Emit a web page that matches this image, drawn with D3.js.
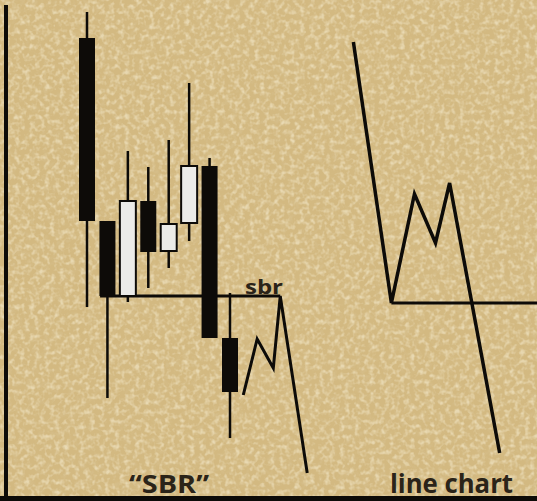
<!DOCTYPE html>
<html>
<head>
<meta charset="utf-8">
<script src="https://cdn.jsdelivr.net/npm/d3@7"></script>
<style>
  body { margin: 0; background: #d1b780; }
  svg { display: block; }
</style>
</head>
<body>
<div id="chart"></div>
<script>
// candle data (t = bar index, price in arbitrary units)
var candleT = [0, 1, 2, 3, 4, 5, 6, 7];
var candleOpen  = [92.4, 55.8, 40.8, 59.8, 49.8, 55.4, 66.8, 32.4];
var candleClose = [55.8, 40.8, 59.8, 49.6, 55.2, 66.8, 32.4, 21.6];
var candleHigh  = [97.6, 55.8, 69.8, 66.6, 72.0, 83.4, 68.4, 41.4];
var candleLow   = [38.6, 20.4, 39.6, 42.4, 46.4, 51.8, 32.4, 12.4];

// "sbr" level and the little line that follows the candles
var sbrLevel = 40.8;
var sbrFrom = 0.64, sbrTo = 9.46;
var sbrLineT = [7.65, 8.33, 9.12, 9.46, 10.78];
var sbrLineV = [21.0, 32.2, 26.4, 40.8, 5.4];

// line chart on the right
var lineT = [13.04, 14.9, 16.03, 17.06, 17.75, 20.2];
var lineV = [91.6, 39.4, 61.2, 51.4, 63.4, 9.4];
var lineLevel = 39.4;
var lineLevelFrom = 14.9, lineLevelTo = 22.2;

var labels = ["\u201cSBR\u201d", "line chart", "sbr"];

var width = 537, height = 501;

var svg = d3.select("#chart")
  .append("svg")
    .attr("width", width)
    .attr("height", height);

// paper texture
var defs = svg.append("defs");
var filt = defs.append("filter").attr("id", "paper")
  .attr("x", 0).attr("y", 0).attr("width", "100%").attr("height", "100%");
filt.append("feTurbulence")
  .attr("type", "fractalNoise")
  .attr("baseFrequency", 0.2)
  .attr("numOctaves", 2)
  .attr("seed", 7);
filt.append("feColorMatrix")
  .attr("type", "matrix")
  .attr("values", "0 0 0 0 0.95  0 0 0 0 0.88  0 0 0 0 0.68  0 0 0 2.6 -1.15");

var filt2 = defs.append("filter").attr("id", "paper2")
  .attr("x", 0).attr("y", 0).attr("width", "100%").attr("height", "100%");
filt2.append("feTurbulence")
  .attr("type", "fractalNoise")
  .attr("baseFrequency", 0.16)
  .attr("numOctaves", 2)
  .attr("seed", 21);
filt2.append("feColorMatrix")
  .attr("type", "matrix")
  .attr("values", "0 0 0 0 0.72  0 0 0 0 0.6  0 0 0 0 0.36  0 0 0 2.6 -1.3");

svg.append("rect")
  .attr("width", width).attr("height", height)
  .attr("fill", "#d3b981");
svg.append("rect")
  .attr("width", width).attr("height", height)
  .attr("filter", "url(#paper2)")
  .attr("opacity", 0.35);
svg.append("rect")
  .attr("width", width).attr("height", height)
  .attr("filter", "url(#paper)")
  .attr("opacity", 0.55);

var x = d3.scaleLinear().domain([0, 7]).range([87, 230]);
var y = d3.scaleLinear().domain([0, 100]).range([500, 0]);

var candles = candleT.map(function (t, i) {
  return { t: t, open: candleOpen[i], close: candleClose[i], high: candleHigh[i], low: candleLow[i] };
});

var ink = "#0d0b08";
var bodyW = 16;

// wicks
svg.selectAll(".wick")
  .data(candles)
  .enter()
  .append("line")
    .attr("class", "wick")
    .attr("x1", function (d) { return x(d.t) })
    .attr("x2", function (d) { return x(d.t) })
    .attr("y1", function (d) { return y(d.high) })
    .attr("y2", function (d) { return y(d.low) })
    .attr("stroke", ink)
    .attr("stroke-width", 2.5);

// sbr level
svg.append("line")
  .attr("x1", x(sbrFrom)).attr("x2", x(sbrTo))
  .attr("y1", y(sbrLevel)).attr("y2", y(sbrLevel))
  .attr("stroke", ink).attr("stroke-width", 3);

// bodies
svg.selectAll(".body")
  .data(candles)
  .enter()
  .append("rect")
    .attr("class", "body")
    .attr("x", function (d) { return x(d.t) - bodyW / 2 })
    .attr("y", function (d) { return y(Math.max(d.open, d.close)) })
    .attr("width", bodyW)
    .attr("height", function (d) { return Math.abs(y(d.open) - y(d.close)) })
    .attr("fill", function (d) { return d.close > d.open ? "#ebebe8" : ink })
    .attr("stroke", ink)
    .attr("stroke-width", function (d) { return d.close > d.open ? 2 : 0 });

var line = d3.line()
  .x(function (d) { return x(d[0]) })
  .y(function (d) { return y(d[1]) });

svg.append("path")
  .datum(d3.zip(sbrLineT, sbrLineV))
  .attr("d", line)
  .attr("fill", "none")
  .attr("stroke", ink)
  .attr("stroke-width", 3)
  .attr("stroke-linejoin", "miter");

// right line chart
svg.append("line")
  .attr("x1", x(lineLevelFrom)).attr("x2", x(lineLevelTo))
  .attr("y1", y(lineLevel)).attr("y2", y(lineLevel))
  .attr("stroke", ink).attr("stroke-width", 3);

svg.append("path")
  .datum(d3.zip(lineT, lineV))
  .attr("d", line)
  .attr("fill", "none")
  .attr("stroke", ink)
  .attr("stroke-width", 3.5)
  .attr("stroke-linejoin", "miter");

// axes frame
svg.append("line")
  .attr("x1", 6).attr("x2", 6).attr("y1", 5).attr("y2", height)
  .attr("stroke", ink).attr("stroke-width", 4);
svg.append("line")
  .attr("x1", 0).attr("x2", width).attr("y1", 498.5).attr("y2", 498.5)
  .attr("stroke", ink).attr("stroke-width", 5);

// texts
var txtColor = "#2b2419";
function label(txt, cx, by, size, len) {
  svg.append("text")
    .attr("x", cx - len / 2).attr("y", by)
    .attr("textLength", len)
    .attr("lengthAdjust", "spacingAndGlyphs")
    .style("font-family", "'Open Sans', sans-serif")
    .style("font-weight", 700)
    .style("font-size", size + "px")
    .attr("fill", txtColor)
    .text(txt);
}
label(labels[2], 264, 294, 20, 38);
label(labels[0], 169, 493, 25, 80);
label(labels[1], 451.5, 493, 27, 123);
</script>
</body>
</html>
